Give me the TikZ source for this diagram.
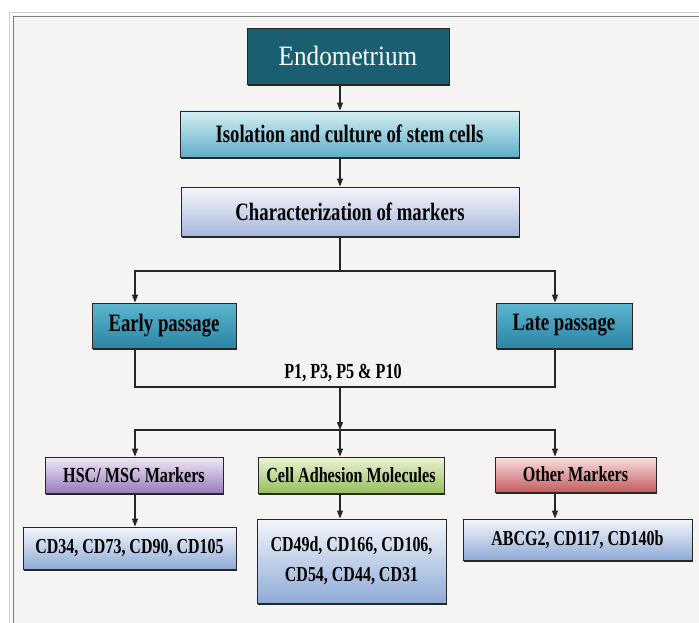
\documentclass[tikz,border=0pt]{standalone}
\usepackage{fontspec}
\setmainfont{Liberation Serif}
\newfontfamily\narrowfont{Liberation Serif}[FakeStretch=0.75]
\newfontfamily\titlefont{Liberation Serif}[FakeStretch=0.9]
\usepackage{tikz}
\usetikzlibrary{arrows.meta,shadows}

\definecolor{paper}{HTML}{F5F4F2}
\definecolor{deepteal}{HTML}{1A5E72}
\definecolor{isotop}{HTML}{D6EEF3}
\definecolor{isobot}{HTML}{5DAFC7}
\definecolor{chartop}{HTML}{F6F6FB}
\definecolor{charbot}{HTML}{A6B7DB}
\definecolor{passtop}{HTML}{5CB5CD}
\definecolor{passbot}{HTML}{2A86A6}
\definecolor{hsctop}{HTML}{F0E9F6}
\definecolor{hscbot}{HTML}{977CBB}
\definecolor{camtop}{HTML}{ECF4D6}
\definecolor{cambot}{HTML}{96BF5C}
\definecolor{othtop}{HTML}{F8E0E0}
\definecolor{othbot}{HTML}{C45C5E}
\definecolor{cdtop}{HTML}{F4F6FB}
\definecolor{cdbot}{HTML}{8EABD7}

\begin{document}
\begin{tikzpicture}[
			x=1pt,y=-1pt,
			box/.style={draw=black!85,line width=0.9pt,inner sep=0pt,align=center,
				font=\narrowfont\bfseries,
				drop shadow={shadow xshift=1.2pt,shadow yshift=-2.2pt,fill=black!85,opacity=1}},
			link/.style={draw=black!85,line width=1.1pt},
			arr/.style={link,-{Triangle[length=8pt,width=6pt]}},
			big/.style={font=\narrowfont\bfseries\fontsize{25}{28}\selectfont},
			mid/.style={font=\narrowfont\bfseries\fontsize{21.5}{24}\selectfont},
			passbox/.style={box,big,top color=passtop,bottom color=passbot,minimum height=45pt},
			cdbox/.style={box,top color=cdtop,bottom color=cdbot,
				font=\narrowfont\bfseries\fontsize{21.3}{30}\selectfont}]
			\useasboundingbox (0,0) rectangle (699,623);
			\fill[white] (0,0) rectangle (699,623);
			\fill[paper] (12,15) rectangle (699,623);
			\draw[black!18,line width=1.2pt] (9.5,623)--(9.5,12.5)--(699,12.5);
			\draw[black!50,line width=1.2pt] (13.5,623)--(13.5,16.5)--(699,16.5);
			% columns of the connectors
			\coordinate (cl) at (135,0);
			\coordinate (cm) at (340,0);
			\coordinate (cr) at (555,0);
			\node[box,fill=deepteal,text=white,minimum width=202pt,minimum height=56pt,
				font=\titlefont\fontsize{28}{30}\selectfont] (endo) at (348,56) {Endometrium};
			\node[box,big,top color=isotop,bottom color=isobot,minimum width=339pt,
				minimum height=46pt] (iso) at (349.5,134) {Isolation and culture of stem cells};
			\node[box,big,top color=chartop,bottom color=charbot,minimum width=338pt,
				minimum height=49pt] (charac) at (350,211.5) {Characterization of markers};
			\node[passbox,minimum width=144pt] (early) at (164,325.5) {Early passage};
			\node[passbox,minimum width=136pt] (late) at (564,325.5) {Late passage};
			\node[box,mid,top color=hsctop,bottom color=hscbot,minimum width=178pt,
				minimum height=36pt] (hsc) at (134,475) {HSC/ MSC Markers};
			\node[box,mid,top color=camtop,bottom color=cambot,minimum width=186pt,
				minimum height=36pt] (cam) at (351,475) {Cell Adhesion Molecules};
			\node[box,mid,top color=othtop,bottom color=othbot,minimum width=161pt,
				minimum height=35pt] (other) at (575.5,474.5) {Other Markers};
			\node[cdbox,minimum width=213pt,minimum height=42pt] (hscm) at (129.5,548) {CD34, CD73, CD90, CD105};
			\node[cdbox,minimum width=189pt,minimum height=84pt] (camm) at (351.5,561) {CD49d, CD166, CD106,\\CD54, CD44, CD31};
			\node[cdbox,minimum width=229pt,minimum height=41pt] (otherm) at (577.5,539.5) {ABCG2, CD117, CD140b};
			% junctions
			\coordinate (j1) at (340,271);
			\coordinate (j2) at (340,387);
			\coordinate (j3) at (340,430);
			\draw[arr] (endo.south -| cm) -- (iso.north -| cm);
			\draw[arr] (iso.south -| cm) -- (charac.north -| cm);
			\draw[link] (charac.south -| cm) -- (j1);
			\draw[arr] (j1) -| (early.north -| cl);
			\draw[arr] (j1) -| (late.north -| cr);
			\draw[link] (early.south -| cl) |- (j2);
			\draw[link] (late.south -| cr) |- (j2);
			\node[mid,anchor=south,inner sep=0pt] (pass) at (343,382) {P1, P3, P5 \& P10};
			\draw[arr] (j2) -- (j3);
			\draw[arr] (j3) -| (hsc.north -| cl);
			\draw[arr] (j3) -- (cam.north -| cm);
			\draw[arr] (j3) -| (other.north -| cr);
			\draw[arr] (hsc.south -| cl) -- (hscm.north -| cl);
			\draw[arr] (cam.south -| cm) -- (camm.north -| cm);
			\draw[arr] (other.south -| cr) -- (otherm.north -| cr);
		\end{tikzpicture}
\end{document}
